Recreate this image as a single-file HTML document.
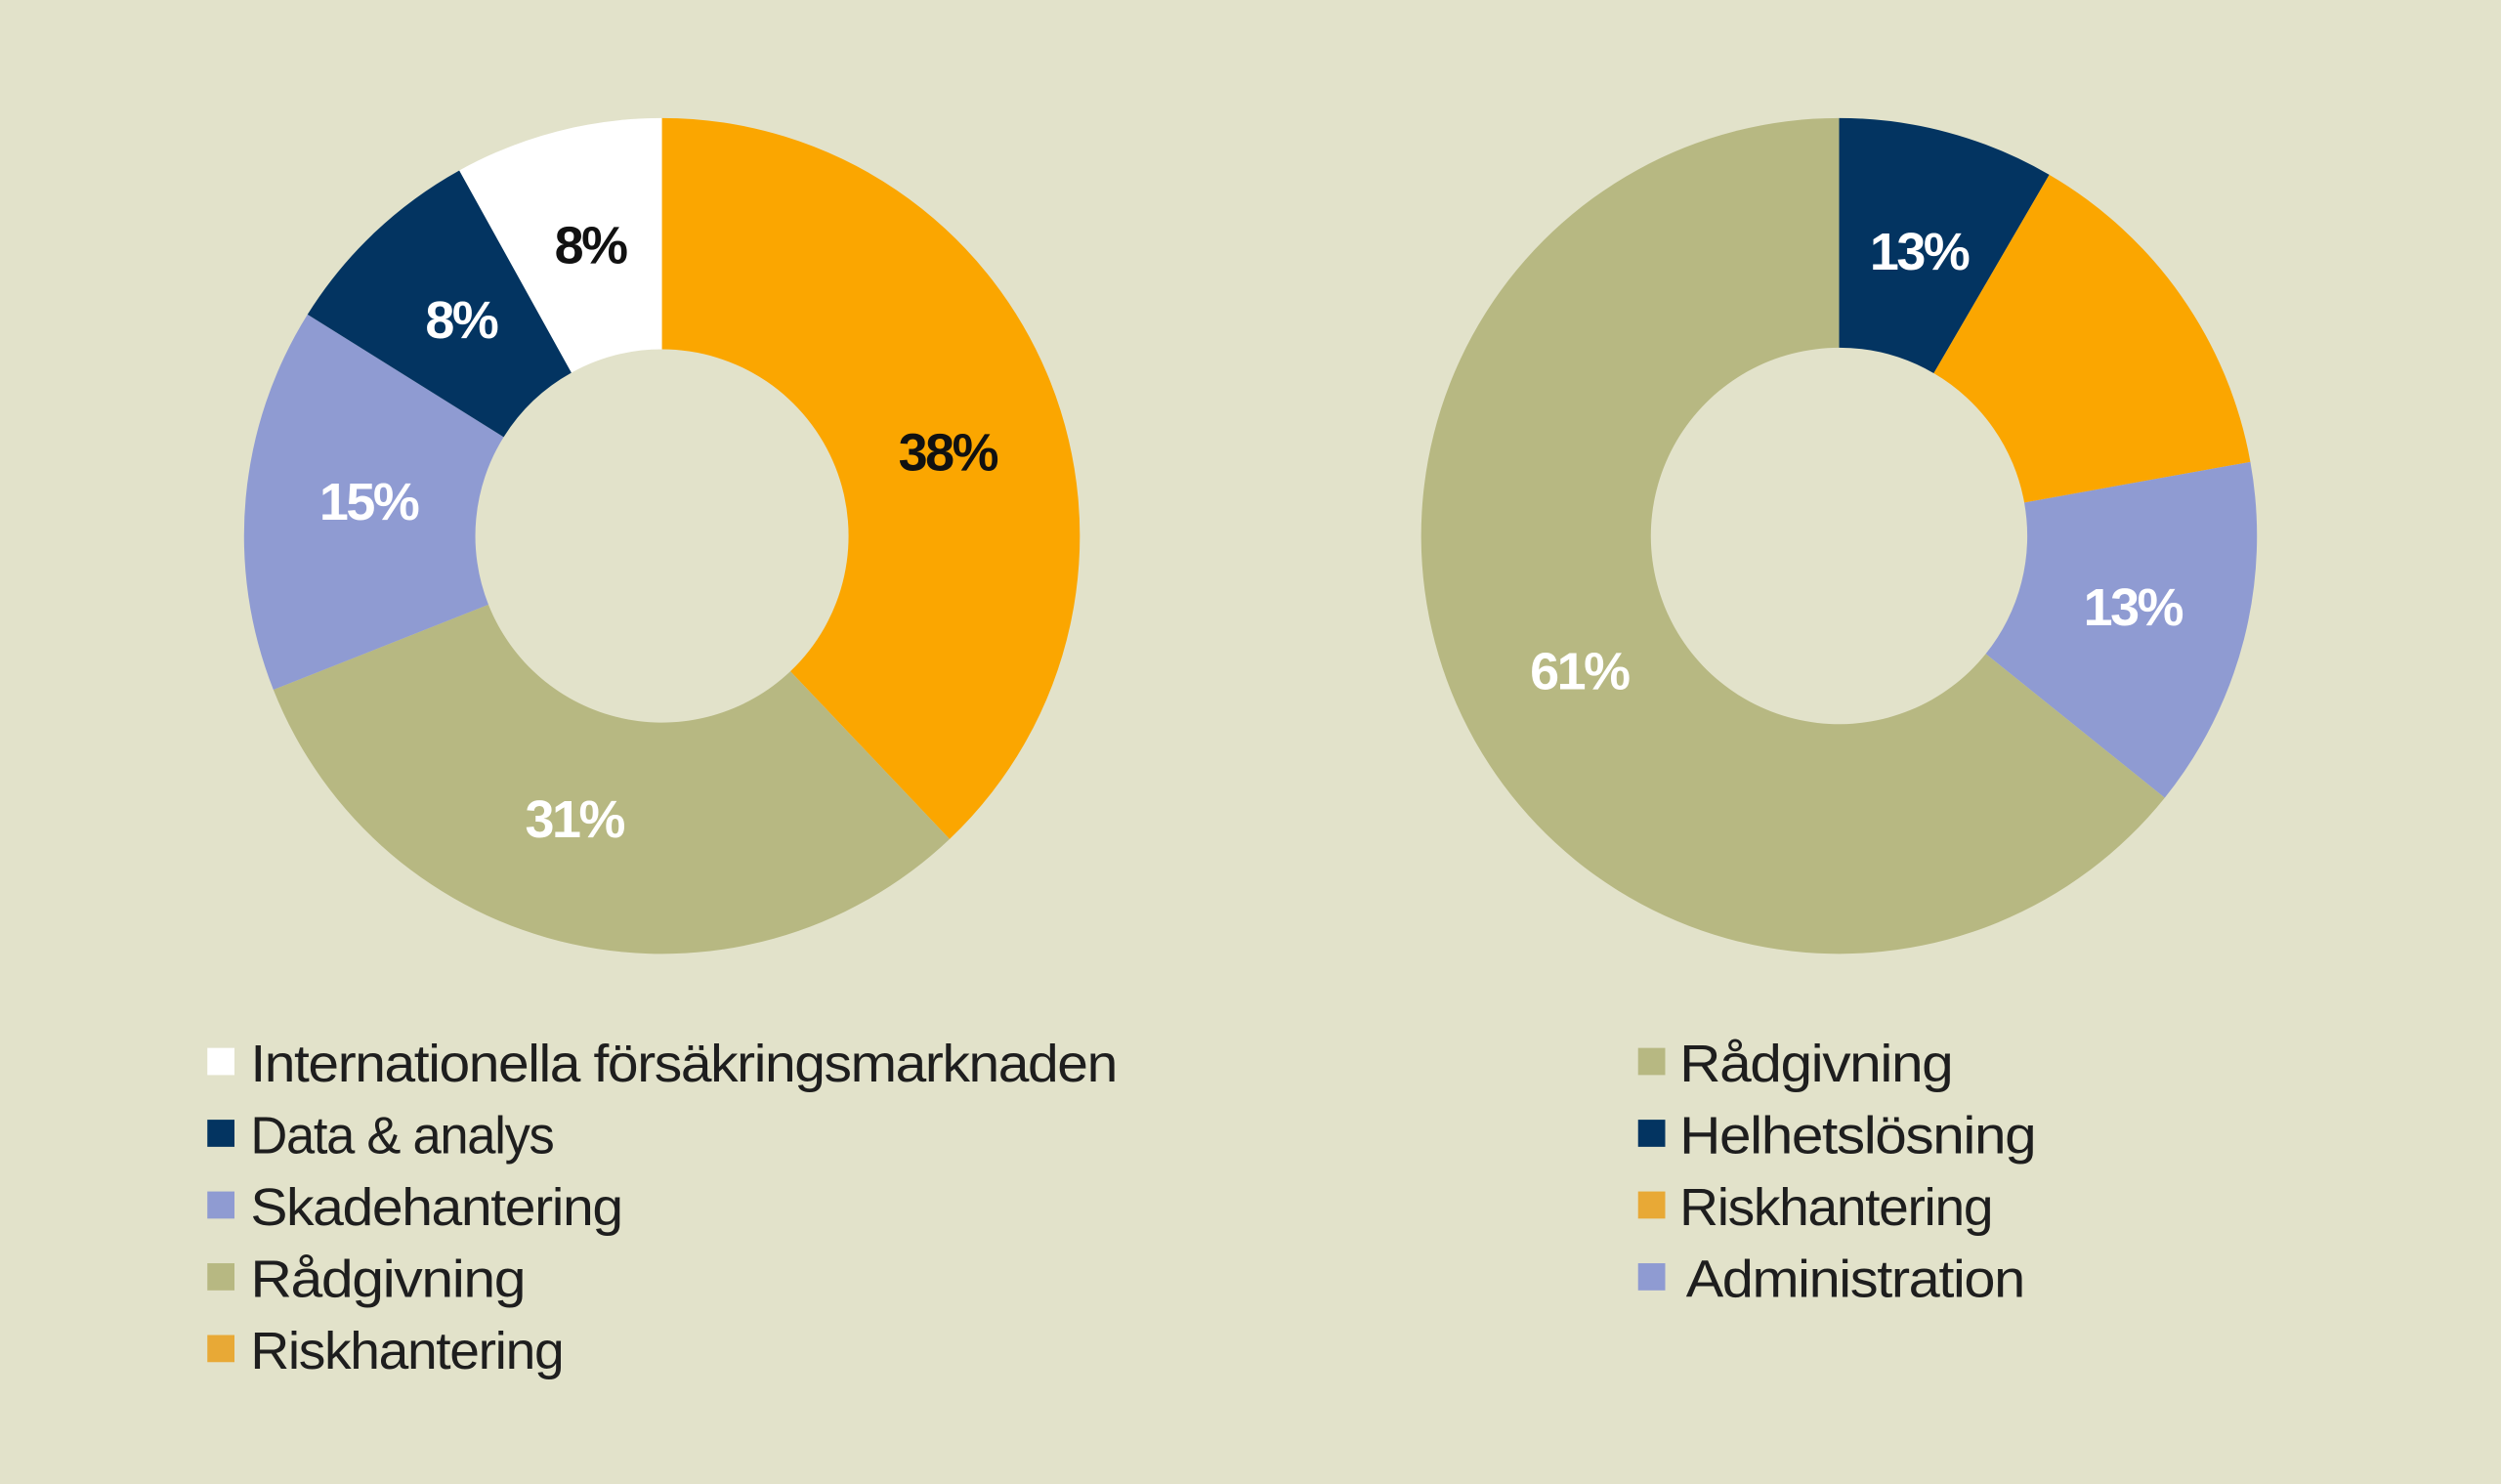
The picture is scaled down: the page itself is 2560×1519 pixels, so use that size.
<!DOCTYPE html>
<html><head><meta charset="utf-8"><style>
html,body{margin:0;padding:0;background:#e2e2ca;}
svg{display:block;}
text{font-family:"Liberation Sans",sans-serif;}
.lab{font-weight:bold;font-size:33px;text-anchor:middle;letter-spacing:-1.5px;}
.leg{font-size:33px;fill:#1e1e1e;letter-spacing:-0.8px;}
</style></head><body>
<svg id="s" width="2560" height="1519" viewBox="0 0 1568 930.4" preserveAspectRatio="none">
<rect width="1568" height="931" fill="#e2e2ca"/>
<g id="d"></g>
<text class="lab" x="370" y="165" fill="#111">8%</text>
<text class="lab" x="289" y="212" fill="#fff">8%</text>
<text class="lab" x="231" y="326" fill="#fff">15%</text>
<text class="lab" x="594" y="295" fill="#111">38%</text>
<text class="lab" x="360" y="525" fill="#fff">31%</text>
<text class="lab" x="1203" y="169" fill="#fff">13%</text>
<text class="lab" x="1337" y="392" fill="#fff">13%</text>
<text class="lab" x="990" y="432" fill="#fff">61%</text>
<rect x="130" y="657" width="17" height="17" fill="#fff"/>
<rect x="130" y="702" width="17" height="17" fill="#033461"/>
<rect x="130" y="747" width="17" height="17" fill="#8f9bd2"/>
<rect x="130" y="792" width="17" height="17" fill="#b7b882"/>
<rect x="130" y="837" width="17" height="17" fill="#e8a936"/>
<text class="leg" x="157" y="678" textLength="543" lengthAdjust="spacingAndGlyphs">Internationella försäkringsmarknaden</text>
<text class="leg" x="157" y="723" textLength="190" lengthAdjust="spacingAndGlyphs">Data &amp; analys</text>
<text class="leg" x="157" y="768" textLength="233" lengthAdjust="spacingAndGlyphs">Skadehantering</text>
<text class="leg" x="157" y="813" textLength="172" lengthAdjust="spacingAndGlyphs">Rådgivning</text>
<text class="leg" x="157" y="858" textLength="196" lengthAdjust="spacingAndGlyphs">Riskhantering</text>
<rect x="1027" y="657" width="17" height="17" fill="#b7b882"/>
<rect x="1027" y="702" width="17" height="17" fill="#033461"/>
<rect x="1027" y="747" width="17" height="17" fill="#e8a936"/>
<rect x="1027" y="792" width="17" height="17" fill="#8f9bd2"/>
<text class="leg" x="1053" y="678" textLength="171" lengthAdjust="spacingAndGlyphs">Rådgivning</text>
<text class="leg" x="1053" y="723" textLength="223" lengthAdjust="spacingAndGlyphs">Helhetslösning</text>
<text class="leg" x="1053" y="768" textLength="196" lengthAdjust="spacingAndGlyphs">Riskhantering</text>
<text class="leg" x="1057" y="813" textLength="212" lengthAdjust="spacingAndGlyphs">Administration</text>
</svg>
<script>
function arc(cx,cy,R,r,a0,a1,c){
 const p=(a,rad)=>[cx+rad*Math.sin(a*Math.PI/180),cy-rad*Math.cos(a*Math.PI/180)];
 const L=(a1-a0)>180?1:0;
 const [x0,y0]=p(a0,R),[x1,y1]=p(a1,R),[x2,y2]=p(a1,r),[x3,y3]=p(a0,r);
 return `<path fill="${c}" d="M${x0} ${y0}A${R} ${R} 0 ${L} 1 ${x1} ${y1}L${x2} ${y2}A${r} ${r} 0 ${L} 0 ${x3} ${y3}Z"/>`;
}
let h='';
const O='#fba600',G='#b7b882',V='#8f9bd2',N='#033461',W='#ffffff';
[[0,136.5,O],[136.5,248.4,G],[248.4,302,V],[302,331,N],[331,360,W]].forEach(s=>h+=arc(415,336,262,117,s[0],s[1],s[2]));
[[0,30.2,N],[30.2,79.8,O],[79.8,128.8,V],[128.8,360,G]].forEach(s=>h+=arc(1153,336,262,118,s[0],s[1],s[2]));
document.getElementById('d').innerHTML=h;
</script>
</body></html>
